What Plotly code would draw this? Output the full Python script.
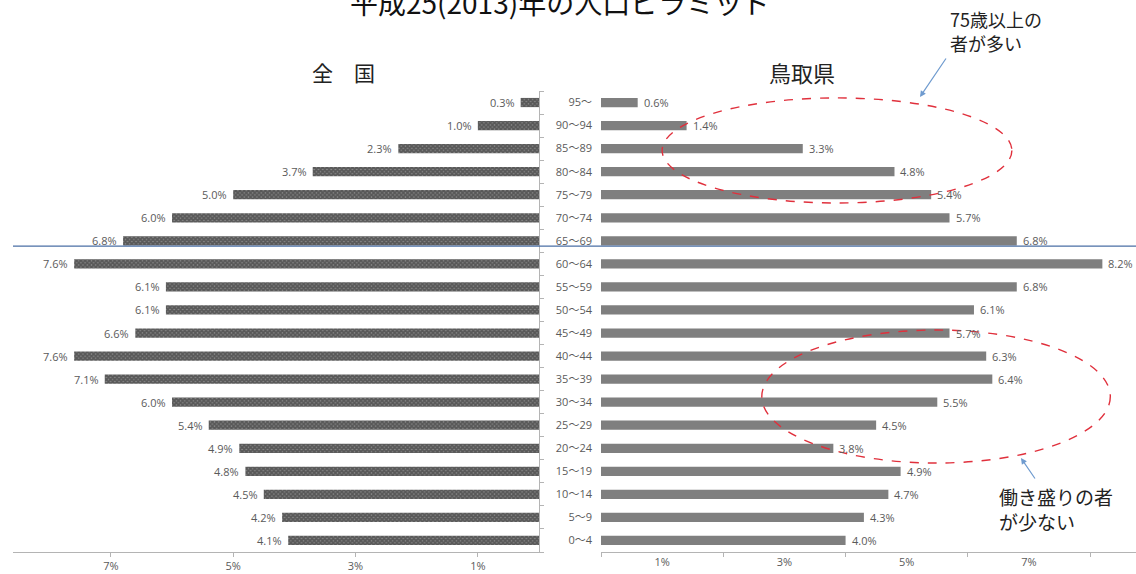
import plotly.graph_objects as go

# Age groups, bottom (youngest) to top (oldest)
age_groups = ["0～4", "5～9", "10～14", "15～19", "20～24", "25～29", "30～34",
              "35～39", "40～44", "45～49", "50～54", "55～59", "60～64",
              "65～69", "70～74", "75～79", "80～84", "85～89", "90～94", "95～"]

# Share of total population by age group (%), 2013
japan_pct = [4.1, 4.2, 4.5, 4.8, 4.9, 5.4, 6.0, 7.1, 7.6, 6.6,
             6.1, 6.1, 7.6, 6.8, 6.0, 5.0, 3.7, 2.3, 1.0, 0.3]
tottori_pct = [4.0, 4.3, 4.7, 4.9, 3.8, 4.5, 5.5, 6.4, 6.3, 5.7,
               6.1, 6.8, 8.2, 6.8, 5.7, 5.4, 4.8, 3.3, 1.4, 0.6]

tick_vals = [1, 3, 5, 7]
tick_text = ["1%", "3%", "5%", "7%"]
minor_tick_vals = [0, 2, 4, 6, 8]

W, H = 1136, 574
M_TOP, M_BOTTOM = 91, 22
PLOT_H = H - M_TOP - M_BOTTOM
TEXT_GREY = "#5a5a5a"
AXIS_GREY = "#b4b4b4"
LABEL_FONT = dict(family="Open Sans, Noto Sans CJK JP", size=11, color=TEXT_GREY)
CJK = "Noto Sans CJK JP"


def px_x(p):
    """Pixel column -> paper x (no side margins)."""
    return p / W


def px_y(p):
    """Pixel row (from top) -> paper y (relative to the plot area)."""
    return (H - M_BOTTOM - p) / PLOT_H


fig = go.Figure()

# Nationwide (left, mirrored)
fig.add_trace(go.Bar(
    x=japan_pct, y=age_groups, orientation="h", width=0.4,
    xaxis="x", yaxis="y",
    marker=dict(color="#8a8a8a", line=dict(width=0),
                pattern=dict(shape="x", size=3, solidity=0.8,
                             fgcolor="#262626", bgcolor="#8a8a8a")),
    hoverinfo="x+y", showlegend=False,
))

# Tottori (right)
fig.add_trace(go.Bar(
    x=tottori_pct, y=age_groups, orientation="h", width=0.4,
    xaxis="x2", yaxis="y2",
    marker=dict(color="#7f7f7f", line=dict(width=0)),
    hoverinfo="x+y", showlegend=False,
))

annotations = []
for age, v in zip(age_groups, japan_pct):
    annotations.append(dict(x=v, y=age, xref="x", yref="y", text=f"{v:.1f}%",
                            showarrow=False, xanchor="right", xshift=-4,
                            font=LABEL_FONT))
for age, v in zip(age_groups, tottori_pct):
    annotations.append(dict(x=v, y=age, xref="x2", yref="y2", text=f"{v:.1f}%",
                            showarrow=False, xanchor="left", xshift=4,
                            font=LABEL_FONT))


def note(text, x, y, size, anchor="left", color="#222222"):
    return dict(x=px_x(x), y=px_y(y), xref="paper", yref="paper", text=text,
                showarrow=False, xanchor=anchor, yanchor="middle",
                font=dict(family=CJK, size=size, color=color))


# Title, panel headings and callout texts
annotations += [
    note("平成25(2013)年の人口ピラミッド", 560, 2, 28, "center", "#111111"),
    note("全　国", 343, 72, 21, "center"),
    note("鳥取県", 802, 72, 22, "center"),
    note("75歳以上の", 948, 19, 18),
    note("者が多い", 948, 43, 18),
    note("働き盛りの者", 997, 496, 19),
    note("が少ない", 997, 521, 19),
    # Callout arrows
    dict(x=px_x(920), y=px_y(97), xref="paper", yref="paper", text="",
         showarrow=True, ax=947 - 920, ay=57 - 97, arrowhead=2,
         arrowsize=1, arrowwidth=1.2, arrowcolor="#6f9bcf"),
    dict(x=px_x(1021), y=px_y(458), xref="paper", yref="paper", text="",
         showarrow=True, ax=1036 - 1021, ay=480 - 458, arrowhead=2,
         arrowsize=1, arrowwidth=1.2, arrowcolor="#6f9bcf"),
]

shapes = [
    # Divider under the 65～69 group
    dict(type="line", xref="paper", yref="y", x0=px_x(13), x1=1,
         y0=12.77, y1=12.77, line=dict(color="#4a6fa5", width=1.2)),
    # Highlight: elderly share
    dict(type="circle", xref="x2", yref="y2", x0=1.0, x1=6.72,
         y0=14.64, y1=19.2, line=dict(color="#e0303c", width=1.4, dash="dash")),
    # Highlight: working-age share
    dict(type="circle", xref="x2", yref="y2", x0=2.63, x1=8.33,
         y0=3.36, y1=9.13, line=dict(color="#e0303c", width=1.4, dash="dash")),
]

cat_axis = dict(type="category", categoryorder="array", categoryarray=age_groups,
                range=[-0.5, 19.5], fixedrange=True)

fig.update_layout(
    width=W, height=H,
    margin=dict(l=0, r=0, t=M_TOP, b=M_BOTTOM),
    paper_bgcolor="white", plot_bgcolor="white",
    bargap=0.6,
    xaxis=dict(domain=[px_x(13), px_x(539)], range=[8.6, 0],
               showgrid=False, zeroline=False, showline=True,
               linecolor=AXIS_GREY, linewidth=1,
               tickvals=tick_vals, ticktext=tick_text,
               ticks="outside", ticklen=4, tickcolor=AXIS_GREY,
               tickfont=LABEL_FONT, anchor="y"),
    xaxis2=dict(domain=[px_x(601), 1], range=[0, 8.75],
                showgrid=False, zeroline=False, showline=True,
                linecolor=AXIS_GREY, linewidth=1,
                tickvals=tick_vals, ticktext=tick_text, ticks="",
                minor=dict(tickvals=minor_tick_vals, ticks="outside",
                           ticklen=4, tickcolor=AXIS_GREY),
                tickfont=LABEL_FONT, anchor="y2"),
    yaxis=dict(**cat_axis, side="right", showline=True, linecolor=AXIS_GREY,
               linewidth=1, ticks="outside", tickson="boundaries", ticklen=4,
               tickcolor=AXIS_GREY, showticklabels=False, showgrid=False,
               anchor="x"),
    yaxis2=dict(**cat_axis, showline=False, ticks="", showgrid=False,
                tickfont=LABEL_FONT, ticklabelstandoff=8, anchor="x2"),
    annotations=annotations,
    shapes=shapes,
)

fig.write_html("out.html")
